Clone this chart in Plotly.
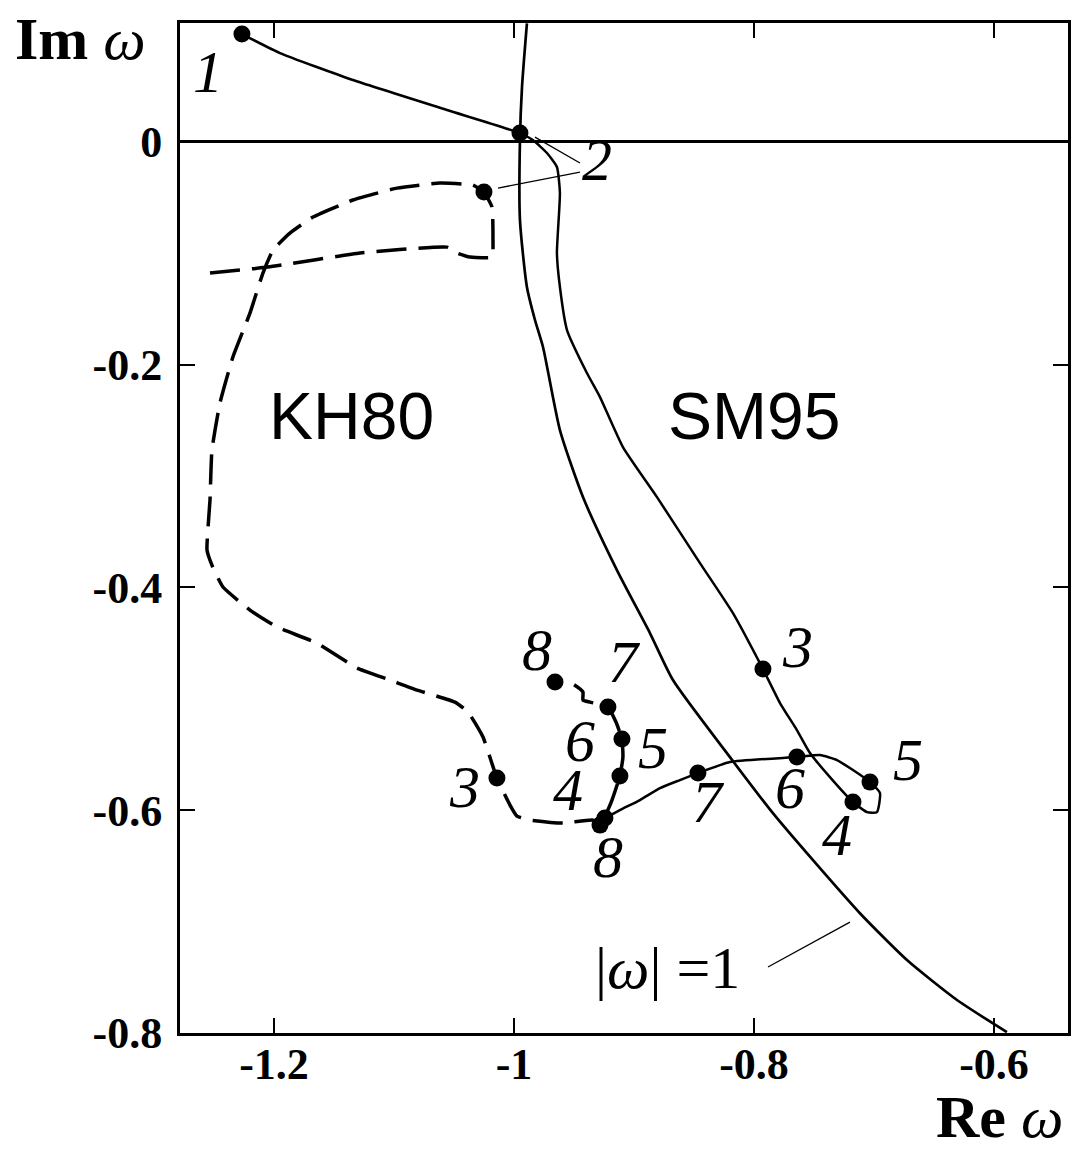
import plotly.graph_objects as go

# SM95 trajectory (solid), points 1..8 marked
sm95_re = [-1.2267, -1.195, -1.1342, -1.0558, -0.995, -0.9842, -0.9725, -0.9642, -0.9617,
           -0.9642, -0.9617, -0.9558, -0.9392, -0.9283, -0.9092, -0.8808, -0.845, -0.8175,
           -0.7925, -0.7783, -0.7642, -0.7533, -0.7367, -0.7175, -0.7058, -0.6975, -0.695,
           -0.7033, -0.7175, -0.7308, -0.745, -0.7642, -0.82, -0.8467, -0.8617, -0.8783,
           -0.895, -0.9117, -0.9242]
sm95_im = [0.0967, 0.0796, 0.0554, 0.0285, 0.0078, 0.0015, -0.0101, -0.0227, -0.046,
           -0.1, -0.1304, -0.169, -0.2076, -0.2292, -0.2741, -0.319, -0.3782, -0.4231,
           -0.4733, -0.5038, -0.5281, -0.5487, -0.5703, -0.5927, -0.6017, -0.6017, -0.5846,
           -0.5748, -0.564, -0.555, -0.5505, -0.5523, -0.5568, -0.5667, -0.573, -0.5802,
           -0.5909, -0.5999, -0.6071]
sm95_pt_re = [-1.2267, -0.995, -0.7925, -0.7175, -0.7033, -0.7642, -0.8467, -0.9242]
sm95_pt_im = [0.0967, 0.0078, -0.4733, -0.5927, -0.5748, -0.5523, -0.5667, -0.6071]

# KH80 trajectory (dashed)
kh80_re = [-1.2533, -1.205, -1.1283, -1.0558, -1.0475, -1.0367, -1.0183, -1.0175, -1.0183,
           -1.025, -1.0342, -1.0617, -1.0975, -1.1342, -1.1675, -1.1867, -1.2008, -1.2092,
           -1.22, -1.2342, -1.245, -1.2517, -1.2533, -1.2558, -1.2517, -1.2425, -1.22,
           -1.1975, -1.1642, -1.1308, -1.1033, -1.0808, -1.0492, -1.0383, -1.0258, -1.0142,
           -1.0033, -0.9975, -0.9867, -0.9592, -0.9342, -0.9283, -0.9233, -0.9183, -0.9117,
           -0.9092, -0.91, -0.915, -0.9217, -0.9367, -0.9425, -0.9425, -0.9508, -0.9658]
kh80_im = [-0.1179, -0.1125, -0.0999, -0.0946, -0.0999, -0.1035, -0.1035, -0.0856, -0.0586,
           -0.0452, -0.0389, -0.0371, -0.0416, -0.0523, -0.0676, -0.082, -0.0972, -0.1179,
           -0.1538, -0.1932, -0.2345, -0.2768, -0.3216, -0.3665, -0.38, -0.3997, -0.4204,
           -0.4356, -0.45, -0.4724, -0.4832, -0.4922, -0.503, -0.5119, -0.5344, -0.5712,
           -0.5954, -0.6053, -0.6089, -0.6116, -0.6089, -0.6134, -0.6036, -0.5909, -0.5694,
           -0.5523, -0.5362, -0.5209, -0.5074, -0.503, -0.5012, -0.494, -0.4868, -0.485]
kh80_pt_re = [-1.025, -1.0142, -0.9117, -0.91, -0.9217, -0.9658, -0.9283]
kh80_pt_im = [-0.0452, -0.5712, -0.5694, -0.5362, -0.5074, -0.485, -0.6134]

# |omega| = 1 arc
circle_re = [-0.9892, -0.9933, -0.995, -0.995, -0.9892, -0.9825, -0.9758, -0.9617, -0.9425,
             -0.9142, -0.8867, -0.8675, -0.82, -0.7842, -0.7508, -0.7117, -0.6725, -0.6308,
             -0.5892]
circle_im = [0.1063, 0.0491, 0.0015, -0.0703, -0.1304, -0.16, -0.1842, -0.2588, -0.3189,
             -0.3845, -0.441, -0.4832, -0.5524, -0.6027, -0.6449, -0.6925, -0.7345, -0.7704,
             -0.7992]

# axis ticks
x_ticks = [-1.2, -1.0, -0.8, -0.6]
x_ticktext = ["-1.2", "-1", "-0.8", "-0.6"]
y_ticks = [0.0, -0.2, -0.4, -0.6, -0.8]
y_ticktext = ["0", "-0.2", "-0.4", "-0.6", "-0.8"]

# point number labels
num_text = ["1", "2", "3", "4", "5", "6", "7",
            "3", "4", "5", "6", "7", "8", "8"]
num_re = [-1.255, -0.9308, -0.7633, -0.7308, -0.6717, -0.77, -0.8392,
          -1.0408, -0.955, -0.8842, -0.945, -0.9092, -0.9808, -0.9217]
num_im = [0.058, -0.0209, -0.4582, -0.6268, -0.5595, -0.5845, -0.5971,
          -0.5837, -0.5865, -0.5487, -0.5422, -0.4715, -0.4609, -0.6466]

SERIF = "Liberation Serif"
SANS = "Liberation Sans"

fig = go.Figure()

fig.add_trace(go.Scatter(x=circle_re, y=circle_im, mode="lines",
                         line=dict(color="black", width=2.7, shape="spline", smoothing=0.6),
                         hoverinfo="skip", showlegend=False))
fig.add_trace(go.Scatter(x=sm95_re, y=sm95_im, mode="lines",
                         line=dict(color="black", width=2.5, shape="spline", smoothing=0.5),
                         showlegend=False))
fig.add_trace(go.Scatter(x=kh80_re, y=kh80_im, mode="lines",
                         line=dict(color="black", width=3.5, dash="30px,12px",
                                   shape="spline", smoothing=0.4),
                         showlegend=False))
fig.add_trace(go.Scatter(x=sm95_pt_re, y=sm95_pt_im, mode="markers",
                         marker=dict(color="black", size=17), showlegend=False))
fig.add_trace(go.Scatter(x=kh80_pt_re, y=kh80_pt_im, mode="markers",
                         marker=dict(color="black", size=17), showlegend=False))
fig.add_trace(go.Scatter(x=num_re, y=num_im, mode="text", text=num_text,
                         textfont=dict(family=SERIF, size=60, style="italic", color="black"),
                         textposition="middle center", showlegend=False))

# leader lines
leaders = [(-0.9825, 0.0042, -0.945, -0.0191),
           (-1.0133, -0.0416, -0.945, -0.0272),
           (-0.7883, -0.7408, -0.72, -0.7005)]
for x0, y0, x1, y1 in leaders:
    fig.add_shape(type="line", x0=x0, y0=y0, x1=x1, y1=y1, xref="x", yref="y",
                  line=dict(color="black", width=1.3))

fig.add_annotation(x=-0.8717, y=-0.7418, xref="x", yref="y", showarrow=False,
                   text="|<i>ω</i>| =1", font=dict(family=SERIF, size=60, color="black"))
fig.add_annotation(x=-1.1358, y=-0.2462, xref="x", yref="y", showarrow=False,
                   text="KH80", font=dict(family=SANS, size=66, color="black"))
fig.add_annotation(x=-0.80, y=-0.2462, xref="x", yref="y", showarrow=False,
                   text="SM95", font=dict(family=SANS, size=66, color="black"))

# axis titles
fig.add_annotation(x=-0.1126, y=1.019, xref="paper", yref="paper", showarrow=False,
                   xanchor="center", yanchor="top",
                   text="<b>Im</b> <i>ω</i>", font=dict(family=SERIF, size=60, color="black"))
fig.add_annotation(x=0.9234, y=-0.0835, xref="paper", yref="paper", showarrow=False,
                   xanchor="center", yanchor="middle",
                   text="<b>Re</b> <i>ω</i>", font=dict(family=SERIF, size=60, color="black"))

axis_common = dict(showgrid=False, showline=True, linecolor="black", linewidth=3,
                   mirror="ticks", ticks="inside", ticklen=15, tickwidth=2,
                   tickcolor="black",
                   tickfont=dict(family=SERIF, size=44, color="black", weight="bold"))

fig.update_xaxes(range=[-1.2783, -0.5383], tickvals=x_ticks, ticktext=x_ticktext,
                 zeroline=False, ticklabelstandoff=-10, **axis_common)
fig.update_yaxes(range=[-0.8, 0.1066], tickvals=y_ticks, ticktext=y_ticktext,
                 zeroline=True, zerolinecolor="black", zerolinewidth=2.5,
                 ticklabelstandoff=6, **axis_common)

fig.update_layout(width=1086, height=1152,
                  margin=dict(l=180, r=18, t=23, b=119),
                  paper_bgcolor="white", plot_bgcolor="white")

fig.write_html("out.html")
